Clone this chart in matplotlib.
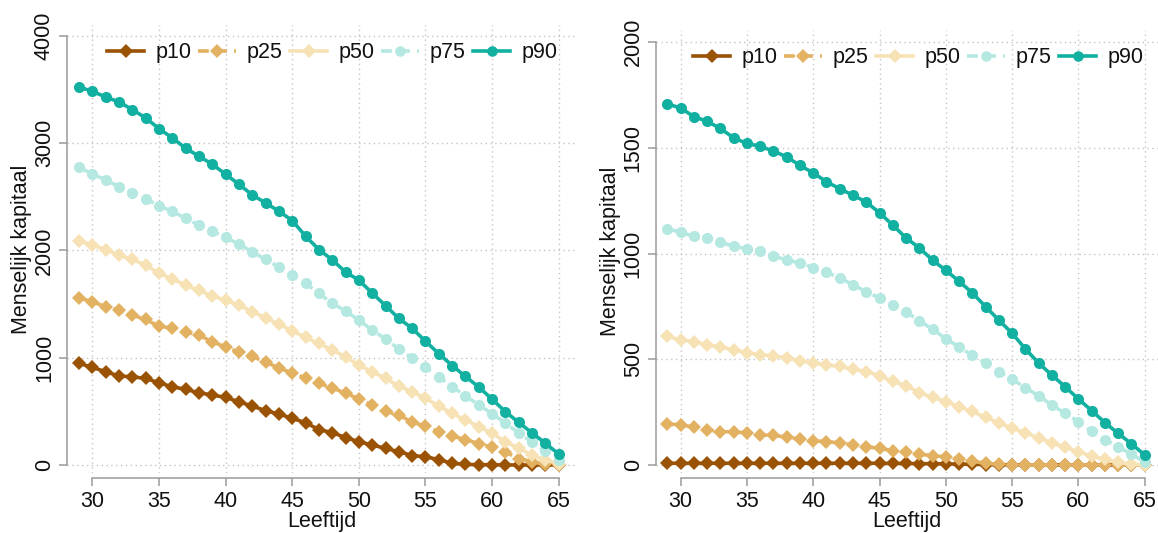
import numpy as np
import matplotlib
matplotlib.use('Agg')
import matplotlib.pyplot as plt

plt.rcParams['font.family'] = ['Liberation Sans', 'DejaVu Sans']

# Leeftijd (x)
ages = np.arange(29, 66)

# Linker paneel
left_p10 = [947, 910, 869, 829, 822, 807, 766, 729, 705, 673, 652, 630, 589, 549, 506, 475,
            435, 394, 330, 302, 256, 217, 186, 155, 124, 88, 77, 50, 16, 5, 3, 2, 0, 0, 0, 0, 0]
left_p25 = [1558, 1521, 1474, 1443, 1397, 1356, 1294, 1273, 1241, 1210, 1148, 1100, 1050, 1012,
            958, 905, 856, 812, 761, 718, 670, 616, 559, 500, 466, 400, 360, 310, 270, 236, 200,
            165, 120, 60, 30, 5, 0]
left_p50 = [2089, 2048, 2008, 1955, 1915, 1862, 1788, 1733, 1676, 1626, 1578, 1533, 1490, 1428,
            1370, 1312, 1250, 1189, 1133, 1071, 1008, 931, 869, 807, 736, 683, 621, 549, 481, 419,
            357, 295, 217, 155, 93, 47, 9]
left_p75 = [2777, 2709, 2660, 2591, 2539, 2483, 2414, 2365, 2297, 2235, 2179, 2120, 2058, 1986,
            1915, 1845, 1769, 1692, 1598, 1508, 1435, 1350, 1257, 1175, 1080, 993, 912, 822, 729,
            645, 559, 478, 388, 301, 212, 130, 47]
left_p90 = [3522, 3482, 3429, 3383, 3312, 3234, 3135, 3048, 2952, 2877, 2803, 2709, 2616, 2517,
            2442, 2365, 2278, 2132, 2008, 1912, 1798, 1722, 1602, 1485, 1366, 1273, 1153, 1037,
            927, 825, 726, 613, 496, 396, 298, 202, 101]

# Rechter paneel
right_p10 = [8, 8, 8, 8, 8, 8, 8, 8, 8, 8, 8, 8, 8, 8, 8, 8, 8, 7, 7, 6, 6, 5, 4, 3, 2, 1, 1,
             0, 0, 0, 0, 0, 0, 0, 0, 0, 0]
right_p25 = [194, 190, 179, 166, 158, 156, 152, 142, 140, 131, 122, 115, 110, 105, 95, 87, 78,
             68, 60, 51, 44, 38, 30, 18, 8, 3, 1, 0, 0, 0, 0, 0, 0, 0, 0, 0, 0]
right_p50 = [608, 592, 584, 569, 558, 545, 532, 521, 517, 506, 494, 482, 474, 466, 453, 442, 422,
             395, 375, 342, 320, 300, 276, 253, 225, 199, 174, 152, 128, 105, 83, 62, 42, 26, 12,
             3, 0]
right_p75 = [1117, 1101, 1082, 1074, 1054, 1035, 1022, 1011, 990, 969, 956, 934, 911, 885, 853,
             819, 790, 758, 725, 683, 642, 598, 558, 519, 481, 442, 405, 366, 326, 284, 244, 205,
             160, 120, 87, 50, 16]
right_p90 = [1708, 1689, 1648, 1626, 1592, 1548, 1521, 1508, 1485, 1458, 1417, 1382, 1340, 1307,
             1276, 1244, 1193, 1135, 1074, 1027, 969, 921, 869, 814, 749, 685, 623, 549, 482, 425,
             370, 312, 257, 200, 149, 100, 47]

names = ['p10', 'p25', 'p50', 'p75', 'p90']
colors = ['#9a5205', '#e2b262', '#f6e2b5', '#b4e8e1', '#12b0a1']
markers = ['D', 'D', 'D', 'o', 'o']
msizes = [7.0, 7.0, 7.0, 8.0, 8.0]
styles = ['-', (0, (3, 2)), '-', (0, (3, 2)), '-']

xticks = [30, 35, 40, 45, 50, 55, 60, 65]
left_yticks = [0, 1000, 2000, 3000, 4000]
right_yticks = [0, 500, 1000, 1500, 2000]

fig = plt.figure(figsize=(11.58, 5.33), dpi=100)
ax1 = fig.add_axes([0.0576, 0.1126, 0.4415, 0.8405])
ax2 = fig.add_axes([0.5662, 0.1126, 0.4338, 0.8311])

axis_col = '#9a9a9a'
txt_col = '#111111'


def draw_panel(ax, series, yticks, xlim, ylim, leg_xy, ylab_x, xlab_y):
    for name, vals, c, m, ms, ls in zip(names, series, colors, markers, msizes, styles):
        ax.plot(ages, vals, color=c, marker=m, markersize=ms, markeredgewidth=0,
                linestyle=ls, lw=2.6, label=name)
    ax.set_xlim(*xlim)
    ax.set_ylim(*ylim)
    ax.set_xticks(xticks)
    ax.set_yticks(yticks)
    ax.grid(True, linestyle=(0, (1, 2.5)), color='#c4c4c4', lw=1.0)
    ax.set_axisbelow(True)
    for s in ['top', 'right']:
        ax.spines[s].set_visible(False)
    for s in ['left', 'bottom']:
        ax.spines[s].set_color(axis_col)
        ax.spines[s].set_linewidth(1.1)
    ax.spines['bottom'].set_position(('outward', 3.5))
    ax.spines['bottom'].set_bounds(xticks[0], xticks[-1])
    ax.spines['left'].set_bounds(yticks[0], yticks[-1])
    ax.tick_params(direction='out', length=6, width=1.1, color=axis_col,
                   labelsize=15.5, labelcolor=txt_col)
    ax.tick_params(axis='x', pad=3.5)
    ax.tick_params(axis='y', pad=2.5, labelrotation=90)
    for lbl in ax.yaxis.get_majorticklabels():
        lbl.set_verticalalignment('center')
    ax.set_xlabel('Leeftijd', fontsize=15.5, color=txt_col)
    ax.xaxis.set_label_coords(0.5, xlab_y)
    ax.set_ylabel('Menselijk kapitaal', fontsize=15.5, color=txt_col, va='center')
    ax.yaxis.set_label_coords(ylab_x, 0.5)
    ax.legend(loc='center', bbox_to_anchor=leg_xy, bbox_transform=fig.transFigure,
              ncol=5, frameon=False, fontsize=15.5, handlelength=1.75,
              handletextpad=0.5, columnspacing=0.33, markerscale=0.95,
              borderpad=0, borderaxespad=0, labelcolor=txt_col)


draw_panel(ax1, [left_p10, left_p25, left_p50, left_p75, left_p90], left_yticks,
           (28.08, 66.44), (-74.5, 4100), (0.2867, 0.9006), -0.089, -0.085)
draw_panel(ax2, [right_p10, right_p25, right_p50, right_p75, right_p90], right_yticks,
           (28.12, 66.0), (-38, 2058), (0.7927, 0.8912), -0.089, -0.086)

fig.savefig('out.png', dpi=100)
